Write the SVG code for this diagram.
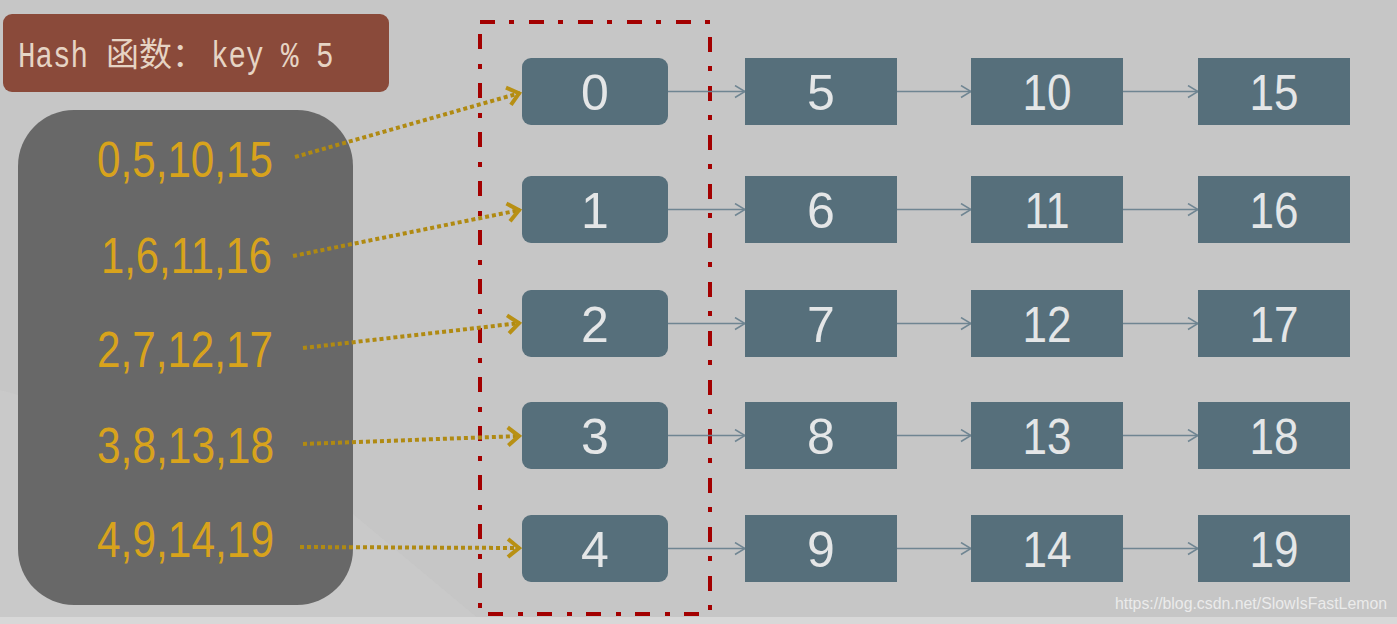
<svg xmlns="http://www.w3.org/2000/svg" width="1397" height="624" viewBox="0 0 1397 624">
<style>
.bucket{fill:#566f7b}
.node{fill:#566f7b}
.num{font-family:"Liberation Sans",Arial,sans-serif;font-size:50px;fill:#e4e6e7;text-anchor:middle}
.keys{font-family:"Liberation Sans",Arial,sans-serif;font-size:50px;fill:#d8a31c}
.link{stroke:#6f8592;stroke-width:1.5;fill:none;marker-end:url(#chev)}
.hashline{stroke:#b08a12;stroke-width:4;stroke-dasharray:4 3;fill:none;marker-end:url(#gold)}
</style>
<defs>
<marker id="chev" markerUnits="userSpaceOnUse" viewBox="0 0 12 14" refX="11" refY="7" markerWidth="12" markerHeight="14" orient="auto">
<path d="M1,1 L11,7 L1,13" fill="none" stroke="#6f8592" stroke-width="1.5"/>
</marker>
<marker id="gold" markerUnits="userSpaceOnUse" viewBox="0 0 16 22" refX="14" refY="11" markerWidth="16" markerHeight="22" orient="auto">
<path d="M2,2 L13,11 L2,20" fill="none" stroke="#b89014" stroke-width="4"/>
</marker>
</defs>
<rect width="1397" height="624" fill="#c6c6c6"/>
<path d="M0,390 L300,470 L480,620 L0,620 Z" fill="#cbcbcb" opacity="0.6"/>
<rect x="0" y="617" width="1397" height="7" fill="#d8d8d8"/>

<g id="hash-title">
<rect x="3" y="14" width="386" height="78" rx="9" fill="#8a4a3a"/>
<text font-family="'Liberation Mono','Courier New',monospace" font-size="36" fill="#e6d4c4" transform="translate(18,67) scale(0.81,1.05)"><tspan x="0">Hash</tspan><tspan x="238.3">key % 5</tspan></text>
<text x="106" y="66" font-family="'Noto Sans CJK SC',sans-serif" font-size="33" fill="#e6d4c4">函数：</text>
</g>

<g id="keys-box">
<rect x="18" y="110" width="335" height="495" rx="56" fill="#686868"/>
<text class="keys" x="97" y="177" textLength="176" lengthAdjust="spacingAndGlyphs">0,5,10,15</text>
<text class="keys" x="101" y="273" textLength="171" lengthAdjust="spacingAndGlyphs">1,6,11,16</text>
<text class="keys" x="97" y="367" textLength="176" lengthAdjust="spacingAndGlyphs">2,7,12,17</text>
<text class="keys" x="97" y="463" textLength="177" lengthAdjust="spacingAndGlyphs">3,8,13,18</text>
<text class="keys" x="97" y="557" textLength="177" lengthAdjust="spacingAndGlyphs">4,9,14,19</text>
</g>

<g id="bucket-frame">
<path d="M480,22 L710,22 L710,614 L480,614 Z" fill="none" stroke="#a30000" stroke-width="4" stroke-dasharray="15 14 5 15"/>
</g>

<g id="connectors">
<path class="hashline" d="M295,157 L520,93"/>
<path class="hashline" d="M293,256 L520,210"/>
<path class="hashline" d="M303,348 L520,323"/>
<path class="hashline" d="M303,444 L520,436"/>
<path class="hashline" d="M300,547 L520,548"/>

<path class="link" d="M668,91.5 L745,91.5"/>
<path class="link" d="M897,91.5 L971,91.5"/>
<path class="link" d="M1123,91.5 L1198,91.5"/>
<path class="link" d="M668,209.5 L745,209.5"/>
<path class="link" d="M897,209.5 L971,209.5"/>
<path class="link" d="M1123,209.5 L1198,209.5"/>
<path class="link" d="M668,323.5 L745,323.5"/>
<path class="link" d="M897,323.5 L971,323.5"/>
<path class="link" d="M1123,323.5 L1198,323.5"/>
<path class="link" d="M668,435.5 L745,435.5"/>
<path class="link" d="M897,435.5 L971,435.5"/>
<path class="link" d="M1123,435.5 L1198,435.5"/>
<path class="link" d="M668,548.5 L745,548.5"/>
<path class="link" d="M897,548.5 L971,548.5"/>
<path class="link" d="M1123,548.5 L1198,548.5"/>
</g>

<g id="bucket-0"><rect class="bucket" x="522" y="58" width="146" height="67" rx="9"/><text class="num" x="595" y="110">0</text></g>
<g id="bucket-1"><rect class="bucket" x="522" y="176" width="146" height="67" rx="9"/><text class="num" x="595" y="228">1</text></g>
<g id="bucket-2"><rect class="bucket" x="522" y="290" width="146" height="67" rx="9"/><text class="num" x="595" y="342">2</text></g>
<g id="bucket-3"><rect class="bucket" x="522" y="402" width="146" height="67" rx="9"/><text class="num" x="595" y="454">3</text></g>
<g id="bucket-4"><rect class="bucket" x="522" y="515" width="146" height="67" rx="9"/><text class="num" x="595" y="567">4</text></g>

<g id="node-5"><rect class="node" x="745" y="58" width="152" height="67"/><text class="num" x="821" y="110">5</text></g>
<g id="node-10"><rect class="node" x="971" y="58" width="152" height="67"/><text class="num" x="1047" y="110" textLength="49" lengthAdjust="spacingAndGlyphs">10</text></g>
<g id="node-15"><rect class="node" x="1198" y="58" width="152" height="67"/><text class="num" x="1274" y="110" textLength="49" lengthAdjust="spacingAndGlyphs">15</text></g>

<g id="node-6"><rect class="node" x="745" y="176" width="152" height="67"/><text class="num" x="821" y="228">6</text></g>
<g id="node-11"><rect class="node" x="971" y="176" width="152" height="67"/><text class="num" x="1047" y="228" textLength="45" lengthAdjust="spacingAndGlyphs">11</text></g>
<g id="node-16"><rect class="node" x="1198" y="176" width="152" height="67"/><text class="num" x="1274" y="228" textLength="49" lengthAdjust="spacingAndGlyphs">16</text></g>

<g id="node-7"><rect class="node" x="745" y="290" width="152" height="67"/><text class="num" x="821" y="342">7</text></g>
<g id="node-12"><rect class="node" x="971" y="290" width="152" height="67"/><text class="num" x="1047" y="342" textLength="49" lengthAdjust="spacingAndGlyphs">12</text></g>
<g id="node-17"><rect class="node" x="1198" y="290" width="152" height="67"/><text class="num" x="1274" y="342" textLength="49" lengthAdjust="spacingAndGlyphs">17</text></g>

<g id="node-8"><rect class="node" x="745" y="402" width="152" height="67"/><text class="num" x="821" y="454">8</text></g>
<g id="node-13"><rect class="node" x="971" y="402" width="152" height="67"/><text class="num" x="1047" y="454" textLength="49" lengthAdjust="spacingAndGlyphs">13</text></g>
<g id="node-18"><rect class="node" x="1198" y="402" width="152" height="67"/><text class="num" x="1274" y="454" textLength="49" lengthAdjust="spacingAndGlyphs">18</text></g>

<g id="node-9"><rect class="node" x="745" y="515" width="152" height="67"/><text class="num" x="821" y="567">9</text></g>
<g id="node-14"><rect class="node" x="971" y="515" width="152" height="67"/><text class="num" x="1047" y="567" textLength="49" lengthAdjust="spacingAndGlyphs">14</text></g>
<g id="node-19"><rect class="node" x="1198" y="515" width="152" height="67"/><text class="num" x="1274" y="567" textLength="49" lengthAdjust="spacingAndGlyphs">19</text></g>

<text x="1115" y="609" font-family="'Liberation Sans',Arial,sans-serif" font-size="16" fill="#f2f2f2" fill-opacity="0.85" textLength="272" lengthAdjust="spacingAndGlyphs">https://blog.csdn.net/SlowIsFastLemon</text>
</svg>
